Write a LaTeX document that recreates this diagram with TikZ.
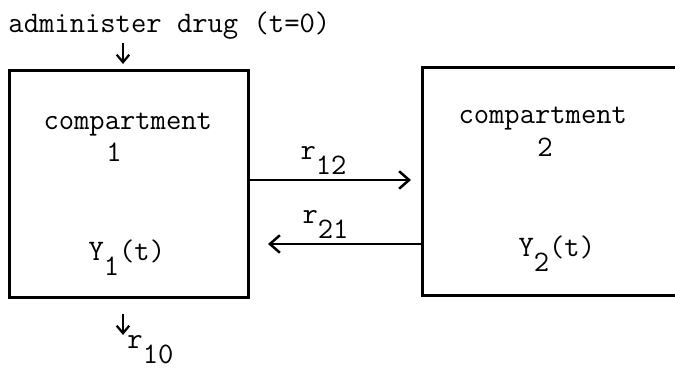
\documentclass[tikz,border=0pt]{standalone}
\usepackage{fontspec}
\usetikzlibrary{arrows.meta,positioning}
\newcommand{\lowsub}[1]{\raisebox{-5.8pt}{#1}}
\tikzset{
  comp/.style={draw, line width=1.2pt, inner sep=0pt},
  txt/.style={inner sep=0pt, anchor=base west, font=\fontsize{11.9}{14}\selectfont\ttfamily},
  flow/.style={-{Straight Barb[length=4pt,width=7pt,line width=1pt]}, line width=1pt},
  drop/.style={-{Straight Barb[length=3pt,width=5pt,line width=0.9pt]}, line width=0.9pt},
}
\begin{document}
\begin{tikzpicture}[x=0.4pt,y=-0.4pt]
\useasboundingbox (0,0) rectangle (675,370);
\clip (0,0) rectangle (675,370);
% the two compartments
\node[comp, minimum width=95.2pt, minimum height=90.8pt] (c1) at (129,184.5) {};
\node[comp, minimum width=108.8pt, minimum height=91.2pt] (c2) at (559,182) {};
% dose and elimination
\node[txt] (dose) at (8,33) {administer drug (t=0)};
\coordinate (in0) at (123,43);
\coordinate (in1) at (123,64);
\draw[drop] (in0) -- (in1);
\coordinate (out0) at (123,314);
\coordinate (out1) at (123,335);
\draw[drop] (out0) -- (out1);
\node[txt] (r10) at (127,349) {r\lowsub{10}};
% texts in the boxes
\node[txt] (n1) at (43,130) {compartment};
\node[txt, anchor=base] (k1) at (114,162) {1};
\node[txt] (y1) at (88,261) {Y\lowsub{1}(t)};
\node[txt] (n2) at (458,124) {compartment};
\node[txt, anchor=base] (k2) at (545,157) {2};
\node[txt] (y2) at (518,257) {Y\lowsub{2}(t)};
% exchange between compartments
\coordinate (a12) at (411,180);
\draw[flow] (c1.east |- a12) -- (a12);
\node[txt] (r12) at (300,160) {r\lowsub{12}};
\coordinate (a21) at (268,244);
\draw[flow] (c2.west |- a21) -- (a21);
\node[txt] (r21) at (302,224) {r\lowsub{21}};
\end{tikzpicture}
\end{document}
